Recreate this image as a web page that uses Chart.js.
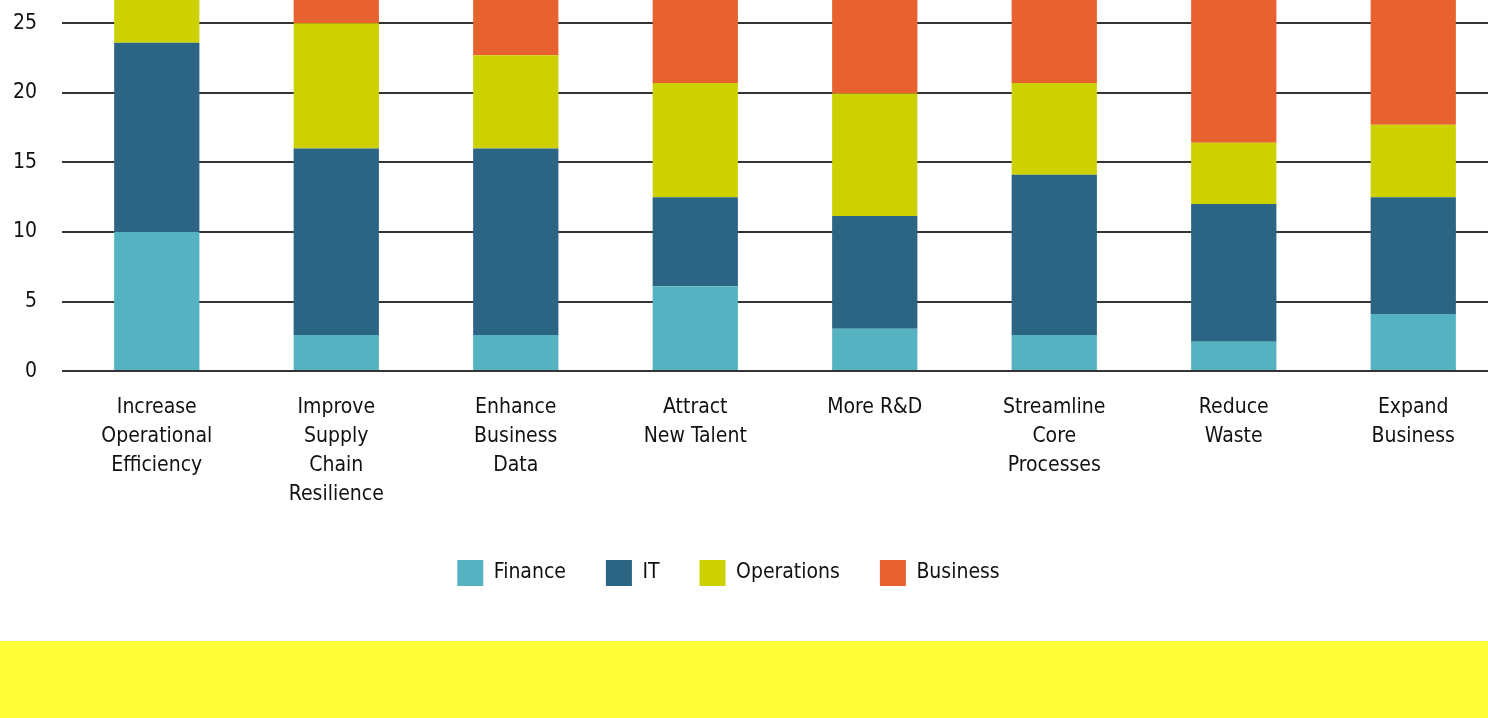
<!DOCTYPE html>
<html>
<head>
<meta charset="utf-8">
<script src="https://cdn.jsdelivr.net/npm/chart.js@4"></script>
<style>
  html, body { margin: 0; padding: 0; background: #fff; overflow: hidden; width: 1488px; height: 718px; }
  #wrap { position: absolute; left: -26px; top: -84px; width: 1536px; height: 680px; }
  #band { position: absolute; left: 0; top: 641px; width: 1488px; height: 77px; background: #FFFC38; }
</style>
</head>
<body>
<div id="wrap"><canvas id="goalsChart"></canvas></div>
<div id="band"></div>
<script>
// Goals by department (stacked)
const categories = [
    ['Increase', 'Operational', 'Efficiency'],
    ['Improve', 'Supply', 'Chain', 'Resilience'],
    ['Enhance', 'Business', 'Data'],
    ['Attract', 'New Talent'],
    ['More R&D'],
    ['Streamline', 'Core', 'Processes'],
    ['Reduce', 'Waste'],
    ['Expand', 'Business']
];
const finance = [10, 2.6, 2.6, 6.1, 3.05, 2.6, 2.1, 4.1];
const it = [13.6, 13.4, 13.4, 6.4, 8.1, 11.5, 9.9, 8.4];
const operations = [6, 9, 6.7, 8.2, 8.8, 6.6, 4.4, 5.2];
const business = [4, 5, 7, 9, 10, 9, 14, 12];
const yTicks = [0, 5, 10, 15, 20, 25, 30];

const FONT = "'Liberation Sans Narrow', 'DejaVu Sans Condensed', 'Roboto', sans-serif";

// move the legend a bit left so it sits under the visible part of the plot
const shiftLegend = {
    id: 'shiftLegend',
    afterLayout(chart) {
        if (!chart.legend) return;
        chart.legend.left -= 17;
        chart.legend.right -= 17;
    }
};

function bars(label, data, color) {
    return {
        label: label,
        data: data,
        backgroundColor: color,
        borderWidth: 0,
        categoryPercentage: 1,
        barPercentage: 0.475
    };
}

new Chart(document.getElementById('goalsChart'), {
    type: 'bar',
    data: {
        labels: categories,
        datasets: [
            bars('Finance', finance, '#55B2C0'),
            bars('IT', it, '#2C6584'),
            bars('Operations', operations, '#CDD100'),
            bars('Business', business, '#E8622F')
        ]
    },
    plugins: [shiftLegend],
    options: {
        responsive: true,
        maintainAspectRatio: false,
        animation: false,
        layout: {
            padding: { left: 14, right: 7, top: 0, bottom: 0 }
        },
        plugins: {
            legend: {
                position: 'bottom',
                labels: {
                    boxWidth: 26,
                    boxHeight: 26,
                    padding: 40,
                    color: '#111',
                    font: { family: FONT, size: 21 }
                }
            },
            tooltip: { enabled: false }
        },
        scales: {
            x: {
                stacked: true,
                grid: { display: false },
                border: { display: false },
                afterFit: function(scale) {
                    scale.height -= 3;
                },
                ticks: {
                    color: '#111',
                    padding: 14,
                    maxRotation: 0,
                    autoSkip: false,
                    font: { family: FONT, size: 21, lineHeight: 1.38 }
                }
            },
            y: {
                stacked: true,
                min: 0,
                max: 30,
                afterBuildTicks: function(scale) {
                    scale.ticks = yTicks.map(v => ({ value: v }));
                },
                grid: {
                    color: '#333',
                    lineWidth: 2,
                    tickLength: 5
                },
                border: { display: false },
                ticks: {
                    color: '#111',
                    padding: 25,
                    font: { family: FONT, size: 21 }
                }
            }
        }
    }
});
</script>
</body>
</html>
